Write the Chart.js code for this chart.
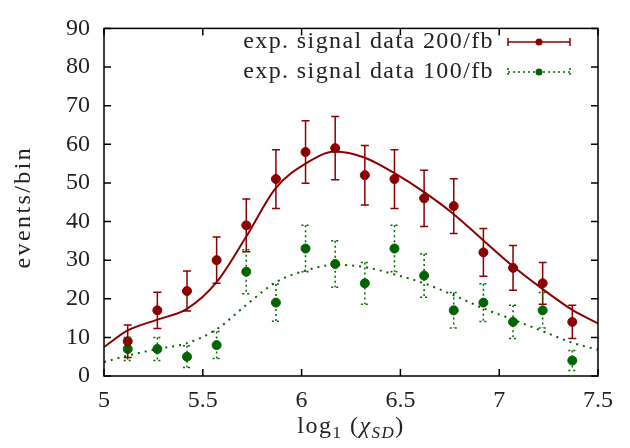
<!DOCTYPE html>
<html>
<head>
<meta charset="utf-8">
<script src="https://cdn.jsdelivr.net/npm/chart.js@4.4.1/dist/chart.umd.min.js"></script>
<style>
  html, body { margin: 0; padding: 0; background: #fff; }
  #wrap { width: 630px; height: 448px; }
</style>
</head>
<body>
<div id="wrap"><canvas id="chart" width="630" height="448"></canvas></div>
<script>
// bin centres on the log axis
const binCenters = [5.12, 5.27, 5.42, 5.57, 5.72, 5.87, 6.02, 6.17, 6.32, 6.47, 6.62, 6.77, 6.92, 7.07, 7.22, 7.37];

// 200/fb data
const signal200 = [9, 17, 22, 30, 39, 51, 58, 59, 52, 51, 46, 44, 32, 28, 24, 14];
const err200 = [4.2, 4.7, 5.2, 6.0, 6.8, 7.6, 8.1, 8.2, 7.7, 7.6, 7.3, 7.1, 6.2, 5.8, 5.4, 4.3];

// 100/fb data
const signal100 = [7, 7, 5, 8, 27, 19, 33, 29, 24, 33, 26, 17, 19, 14, 17, 4];
const err100 = [3.0, 3.0, 2.8, 3.5, 5.7, 4.8, 6.0, 6.0, 5.4, 6.0, 5.6, 4.6, 4.9, 4.3, 4.6, 2.6];

// fitted curves
const curveX = [5.0, 5.12, 5.27, 5.42, 5.57, 5.72, 5.87, 6.02, 6.17, 6.32, 6.47, 6.62, 6.77, 6.92, 7.07, 7.22, 7.37, 7.5];
const fit200 = [7.5, 11.8, 14.6, 17.4, 24.3, 36.1, 48.7, 55.0, 58.1, 56.5, 52.5, 47.6, 41.9, 35.1, 28.4, 22.5, 17.1, 13.6];
const fit100 = [3.6, 5.3, 7.0, 8.5, 12.1, 18.4, 24.3, 27.3, 28.8, 28.2, 26.3, 24.0, 20.9, 17.5, 14.6, 11.6, 8.6, 6.8];

const xTicks = [5, 5.5, 6, 6.5, 7, 7.5];
const yTicks = [0, 10, 20, 30, 40, 50, 60, 70, 80, 90];

const legendLabels = ['exp. signal data 200/fb', 'exp. signal data 100/fb'];
const xTitle = ['log', '1', ' (', 'χ', 'SD', ')'];
const yTitle = 'events/bin';

const RED = '#8b0000';
const GREEN = '#006400';
const TEXT = '#222';
const FONT = '"Liberation Serif", "DejaVu Serif", serif';

const zip = (xs, ys) => xs.map((x, i) => ({ x: x, y: ys[i] }));

// error bars, frame, inward ticks, legend, titles
const decorPlugin = {
    id: 'decor',
    beforeDraw(chart) {
        // tick labels are drawn without extra spacing
        chart.ctx.letterSpacing = '0px';
    },
    afterDatasetsDraw(chart) {
        const { ctx, chartArea: a, scales: { x, y } } = chart;

        // error bars
        const bars = [
            { vals: signal200, errs: err200, color: RED, dash: [] },
            { vals: signal100, errs: err100, color: GREEN, dash: [2, 3] },
        ];
        ctx.save();
        ctx.lineWidth = 1.5;
        bars.forEach(b => {
            ctx.strokeStyle = b.color;
            ctx.setLineDash(b.dash);
            binCenters.forEach((cx, i) => {
                const px = x.getPixelForValue(cx);
                const top = y.getPixelForValue(b.vals[i] + b.errs[i]);
                const bot = y.getPixelForValue(b.vals[i] - b.errs[i]);
                ctx.beginPath();
                ctx.moveTo(px, top); ctx.lineTo(px, bot);
                ctx.moveTo(px - 4, top); ctx.lineTo(px + 4, top);
                ctx.moveTo(px - 4, bot); ctx.lineTo(px + 4, bot);
                ctx.stroke();
            });
        });
        ctx.restore();

        // frame and ticks on all four sides
        ctx.save();
        ctx.strokeStyle = '#000';
        ctx.lineWidth = 1.5;
        ctx.strokeRect(a.left, a.top, a.right - a.left, a.bottom - a.top);
        ctx.beginPath();
        xTicks.forEach(t => {
            const px = x.getPixelForValue(t);
            ctx.moveTo(px, a.bottom); ctx.lineTo(px, a.bottom - 7);
            ctx.moveTo(px, a.top); ctx.lineTo(px, a.top + 7);
        });
        yTicks.forEach(t => {
            const py = y.getPixelForValue(t);
            ctx.moveTo(a.left, py); ctx.lineTo(a.left + 7, py);
            ctx.moveTo(a.right, py); ctx.lineTo(a.right - 7, py);
        });
        ctx.stroke();
        ctx.restore();

        // legend
        ctx.save();
        ctx.font = '24px ' + FONT;
        ctx.letterSpacing = '1.4px';
        ctx.textAlign = 'right';
        ctx.textBaseline = 'middle';
        const rows = [
            { y: 42, color: RED, dash: [] },
            { y: 72, color: GREEN, dash: [2, 3] },
        ];
        rows.forEach((r, i) => {
            ctx.fillStyle = TEXT;
            ctx.fillText(legendLabels[i], 494, r.y);
            ctx.strokeStyle = r.color;
            ctx.lineWidth = 1.5;
            ctx.setLineDash(r.dash);
            ctx.beginPath();
            ctx.moveTo(508, r.y); ctx.lineTo(570, r.y);
            ctx.moveTo(508, r.y - 4); ctx.lineTo(508, r.y + 4);
            ctx.moveTo(570, r.y - 4); ctx.lineTo(570, r.y + 4);
            ctx.stroke();
            ctx.setLineDash([]);
            ctx.fillStyle = r.color;
            ctx.beginPath();
            ctx.arc(539, r.y, 3.5, 0, Math.PI * 2);
            ctx.fill();
        });
        ctx.letterSpacing = '0px';
        ctx.restore();

        // x title with subscripts
        ctx.save();
        ctx.fillStyle = TEXT;
        ctx.letterSpacing = '1.5px';
        ctx.textBaseline = 'alphabetic';
        ctx.textAlign = 'left';
        const parts = [
            { t: xTitle[0], f: '24px ' + FONT, dy: 0 },
            { t: xTitle[1], f: '17px ' + FONT, dy: 5 },
            { t: xTitle[2], f: '24px ' + FONT, dy: 0 },
            { t: xTitle[3], f: 'italic 24px ' + FONT, dy: 0 },
            { t: xTitle[4], f: 'italic 17px ' + FONT, dy: 5 },
            { t: xTitle[5], f: '24px ' + FONT, dy: 0 },
        ];
        let total = 0;
        parts.forEach(p => { ctx.font = p.f; p.w = ctx.measureText(p.t).width; total += p.w; });
        let cx = (a.left + a.right) / 2 - total / 2;
        parts.forEach(p => {
            ctx.font = p.f;
            ctx.fillText(p.t, cx, 433 + p.dy);
            cx += p.w;
        });
        ctx.letterSpacing = '0px';
        ctx.restore();

        // y title
        ctx.save();
        ctx.fillStyle = TEXT;
        ctx.font = '24px ' + FONT;
        ctx.letterSpacing = '2.4px';
        ctx.textAlign = 'center';
        ctx.textBaseline = 'middle';
        ctx.translate(24, (a.top + a.bottom) / 2 + 5);
        ctx.rotate(-Math.PI / 2);
        ctx.fillText(yTitle, 0, 0);
        ctx.letterSpacing = '0px';
        ctx.restore();
    }
};

new Chart(document.getElementById('chart').getContext('2d'), {
    type: 'scatter',
    data: {
        datasets: [
            {
                label: 'fit 200',
                data: zip(curveX, fit200),
                showLine: true,
                borderColor: RED,
                borderWidth: 2,
                pointRadius: 0,
                cubicInterpolationMode: 'monotone',
            },
            {
                label: 'fit 100',
                data: zip(curveX, fit100),
                showLine: true,
                borderColor: GREEN,
                borderWidth: 2,
                borderDash: [2, 5],
                pointRadius: 0,
                cubicInterpolationMode: 'monotone',
            },
            {
                label: legendLabels[0],
                data: zip(binCenters, signal200),
                backgroundColor: RED,
                borderColor: RED,
                pointRadius: 4.5,
            },
            {
                label: legendLabels[1],
                data: zip(binCenters, signal100),
                backgroundColor: GREEN,
                borderColor: GREEN,
                pointRadius: 4.5,
            },
        ]
    },
    options: {
        responsive: false,
        animation: false,
        layout: { padding: { left: 0, top: 20, right: 32, bottom: 0 } },
        plugins: { legend: { display: false }, tooltip: { enabled: false } },
        scales: {
            x: {
                type: 'linear',
                min: 5,
                max: 7.5,
                afterBuildTicks: s => { s.ticks = xTicks.map(v => ({ value: v })); },
                afterFit: s => { s.height = 72; },
                grid: { display: false, drawTicks: false },
                border: { display: false },
                ticks: { color: TEXT, padding: 10, font: { family: FONT, size: 24 }, callback: v => String(v) },
            },
            y: {
                min: 0,
                max: 90,
                afterBuildTicks: s => { s.ticks = yTicks.map(v => ({ value: v })); },
                afterFit: s => { s.width = 104; },
                grid: { display: false, drawTicks: false },
                border: { display: false },
                ticks: { color: TEXT, padding: 14, font: { family: FONT, size: 24 }, callback: v => String(v) },
            }
        }
    },
    plugins: [decorPlugin]
});
</script>
</body>
</html>
